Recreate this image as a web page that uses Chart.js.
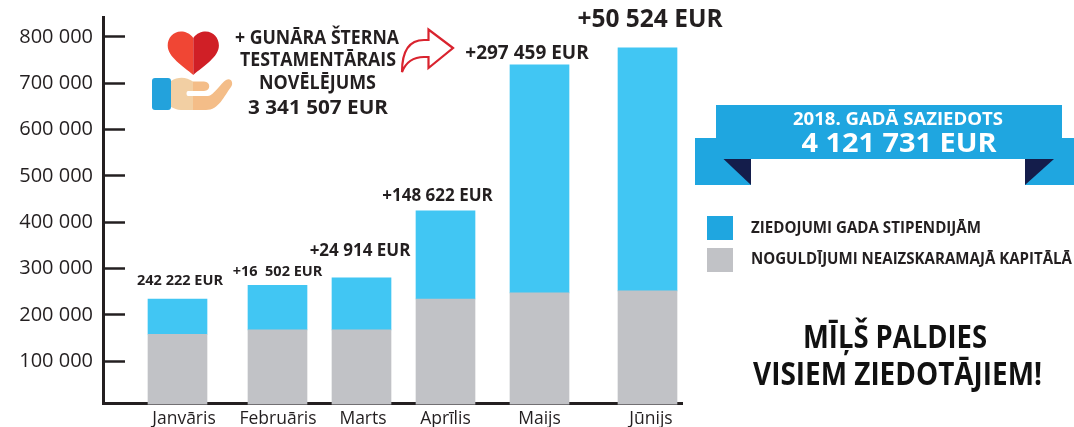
<!DOCTYPE html>
<html>
<head>
<meta charset="utf-8">
<title>2018. gadā saziedots</title>
<style>
  html, body { margin: 0; padding: 0; background: #fff; }
  #wrap { position: relative; width: 1074px; height: 427px; overflow: hidden; }
  #chart { position: absolute; left: 0; top: 0; }
  #overlay { position: absolute; left: 0; top: 0; pointer-events: none; font-family: "Open Sans", sans-serif; }
</style>
<script src="https://cdn.jsdelivr.net/npm/chart.js@4/dist/chart.umd.min.js"></script>
</head>
<body>
<div id="wrap">
  <canvas id="chart" width="1074" height="427"></canvas>
  <svg id="overlay" width="1074" height="427" viewBox="0 0 1074 427">
    <!-- heart in hand -->
    <path d="M193.3 38C190 33 185 31.5 181 31.5C173 31.5 167.7 38 167.7 45.5C167.7 57 183 66 193.3 75Z" fill="#f04634"/>
    <path d="M193.3 38C196.6 33 201.6 31.5 205.6 31.5C213.6 31.5 218.9 38 218.9 45.5C218.9 57 203.6 66 193.3 75Z" fill="#d01f26"/>
    <path d="M171 81C178 76.5 186 76.5 193 81.5V110H181C177 110 174 108 171 107Z" fill="#f2cfa3"/>
    <path d="M193 81.5H204C211 81.5 211 91 204 91H193ZM193 96H208C213 96 221 83 226 80C231 77 234 83 231 87C224 96 219 110 206 110H193Z" fill="#f4bd88"/>
    <path d="M188 91H193V96H188C186 96 186 91 188 91Z" fill="#fff"/>
    <rect x="152" y="78" width="19" height="32" rx="3" fill="#23a2dc"/>
    <!-- arrow to the May bar -->
    <path d="M453 48L428.5 29.5V40H424C410 40 402 50 402 72C406 62 414 57 424 57H428.5V68Z" fill="#fff" stroke="#d9232e" stroke-width="2.2" stroke-linejoin="miter"/>
    <g id="notes" fill="#231f20" font-weight="700" text-anchor="middle"></g>
    <!-- ribbon -->
    <rect x="695" y="138" width="56" height="47" fill="#1fa6e0"/>
    <rect x="1025" y="138" width="49" height="47" fill="#1fa6e0"/>
    <rect x="716" y="105" width="346" height="54" fill="#1fa6e0"/>
    <path d="M723.5 159H751V185Z" fill="#141d4b"/>
    <path d="M1025 159H1054L1025 185Z" fill="#141d4b"/>
    <g id="ribbon" fill="#fff" font-weight="700" text-anchor="middle"></g>
    <g id="legend" fill="#231f20" font-weight="700"></g>
    <g id="thanks" fill="#111" font-weight="700" text-anchor="middle"></g>
  </svg>
</div>
<script>
// Chart data
const months = ['Janvāris', 'Februāris', 'Marts', 'Aprīlis', 'Maijs', 'Jūnijs'];
const capital = [158200, 167400, 167400, 234300, 247300, 251600];
const scholarships = [76100, 96100, 112300, 190100, 492400, 524800];
const barNotes = ['242 222 EUR', '+16  502 EUR', '+24 914 EUR', '+148 622 EUR', '+297 459 EUR', '+50 524 EUR'];
const yTicks = [100000, 200000, 300000, 400000, 500000, 600000, 700000, 800000];
const seriesNames = ['ZIEDOJUMI GADA STIPENDIJĀM', 'NOGULDĪJUMI NEAIZSKARAMAJĀ KAPITĀLĀ'];
const bequestLines = ['+ GUNĀRA ŠTERNA', 'TESTAMENTĀRAIS', 'NOVĒLĒJUMS', '3 341 507 EUR'];
const ribbonLines = ['2018. GADĀ SAZIEDOTS', '4 121 731 EUR'];
const thanksLines = ['MĪĻŠ PALDIES', 'VISIEM ZIEDOTĀJIEM!'];

// Layout of the hand drawn axis: the months are not evenly spaced in the picture
const barCenters = [177.5, 277.5, 361.5, 445.5, 539.5, 647.5];
const monthLabelShift = [6.5, 0.5, 1.5, 0, 0, 3.5];
const noteLayout = [
  { dx: 2.5, dy: -18, size: 14.5 },
  { dx: 0, dy: -13.5, size: 14.5 },
  { dx: -1.5, dy: -27, size: 17 },
  { dx: -8, dy: -15, size: 17 },
  { dx: -12.5, dy: -11, size: 19 },
  { dx: 2.5, dy: -28, size: 24.5 }
];

class SlotScale extends Chart.CategoryScale {
  getPixelForValue(value) {
    let i = typeof value === 'number' ? value : this.parse(value);
    return barCenters[i];
  }
  getPixelForTick(index) {
    return barCenters[index] + monthLabelShift[index];
  }
}
SlotScale.id = 'slots';
SlotScale.defaults = Chart.CategoryScale.defaults;
Chart.register(SlotScale);

// Text above each stack
const barNotesPlugin = {
  id: 'barNotes',
  afterDatasetsDraw(chart) {
    let ctx = chart.ctx;
    let meta = chart.getDatasetMeta(1);
    ctx.save();
    ctx.fillStyle = '#231f20';
    ctx.textAlign = 'center';
    ctx.textBaseline = 'middle';
    barNotes.forEach((note, i) => {
      let l = noteLayout[i];
      ctx.font = '700 ' + l.size + 'px "Open Sans"';
      ctx.fillText(note, meta.data[i].x + l.dx, meta.data[i].y + l.dy);
    });
    ctx.restore();
  }
};

new Chart(document.getElementById('chart'), {
  type: 'bar',
  data: {
    labels: months,
    datasets: [
      { label: seriesNames[1], data: capital, backgroundColor: '#c1c2c6' },
      { label: seriesNames[0], data: scholarships, backgroundColor: '#41c6f3' }
    ]
  },
  options: {
    responsive: false,
    animation: false,
    barThickness: 59,
    clip: { left: 0, top: 0, right: 0, bottom: 1.5 },
    layout: { padding: { top: 17, right: 392, left: 0, bottom: 0 } },
    plugins: { legend: { display: false }, tooltip: { enabled: false } },
    scales: {
      x: {
        type: 'slots',
        stacked: true,
        afterFit: scale => {
          scale.height = 24;
          scale.paddingLeft = 0;
          scale.paddingRight = 0;
        },
        grid: { display: false, drawTicks: false },
        border: { color: '#231f20', width: 3 },
        ticks: {
          autoSkip: false,
          maxRotation: 0,
          padding: 6,
          color: '#231f20',
          font: { family: '"Open Sans"', size: 17.5 }
        }
      },
      y: {
        stacked: true,
        min: 9700,
        max: 843000,
        afterFit: scale => {
          scale.width = 103;
          scale.paddingTop = 0;
          scale.paddingBottom = 0;
        },
        afterBuildTicks: scale => { scale.ticks = yTicks.map(v => ({ value: v })); },
        grid: { drawOnChartArea: false, tickLength: -22, tickWidth: 2.5, tickColor: '#231f20' },
        border: { color: '#231f20', width: 3 },
        ticks: {
          padding: 32,
          color: '#231f20',
          font: { family: '"Open Sans"', size: 20 },
          callback: v => String(v).replace(/000$/, ' 000')
        }
      }
    }
  },
  plugins: [barNotesPlugin]
});

// Text around the chart
function addText(groupId, text, x, baseline, size, width) {
  let t = document.createElementNS('http://www.w3.org/2000/svg', 'text');
  t.textContent = text;
  t.setAttribute('x', x);
  t.setAttribute('y', baseline);
  t.setAttribute('font-size', size);
  t.setAttribute('textLength', width);
  t.setAttribute('lengthAdjust', 'spacingAndGlyphs');
  document.getElementById(groupId).appendChild(t);
}

addText('notes', bequestLines[0], 317, 44, 19, 164);
addText('notes', bequestLines[1], 318, 65.7, 19, 156);
addText('notes', bequestLines[2], 317.5, 89, 19, 117);
addText('notes', bequestLines[3], 318, 114, 20, 140);

addText('ribbon', ribbonLines[0], 898, 125, 18.5, 210);
addText('ribbon', ribbonLines[1], 899, 152, 27, 195);

addText('legend', seriesNames[0], 751, 233.3, 16, 230);
addText('legend', seriesNames[1], 751, 264, 16, 321);

addText('thanks', thanksLines[0], 895, 348.3, 33, 184);
addText('thanks', thanksLines[1], 897.5, 385, 33, 289);

// Legend swatches use the flatter blue of the ribbon
const swatchColors = ['#1fa6e0', '#c1c2c6'];
swatchColors.forEach((c, i) => {
  let r = document.createElementNS('http://www.w3.org/2000/svg', 'rect');
  r.setAttribute('x', 707);
  r.setAttribute('y', 216 + i * 32);
  r.setAttribute('width', 26);
  r.setAttribute('height', 24);
  r.setAttribute('fill', c);
  document.getElementById('legend').appendChild(r);
});
</script>
</body>
</html>
